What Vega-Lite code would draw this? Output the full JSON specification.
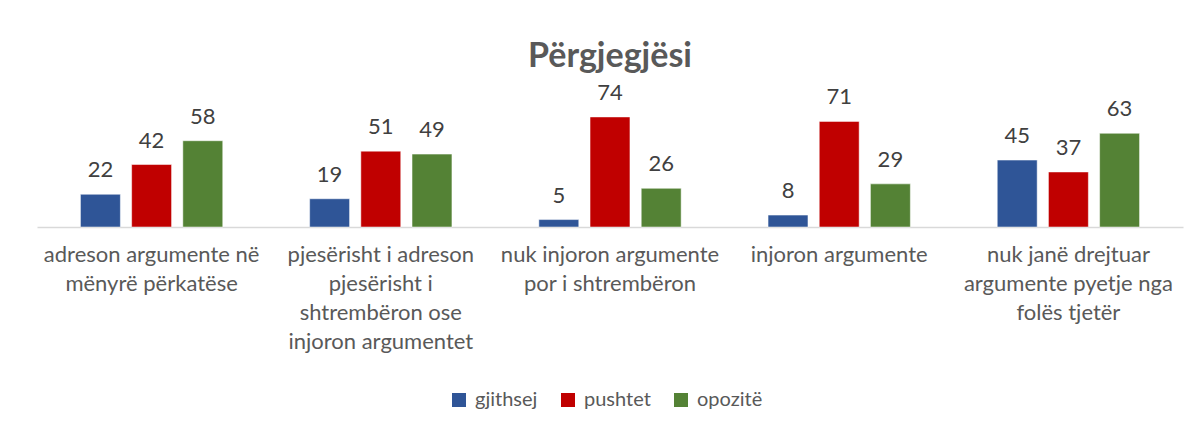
{
  "$schema": "https://vega.github.io/schema/vega-lite/v6.json",
  "width": 1146,
  "height": 119,
  "autosize": {"type": "none"},
  "padding": {"left": 37, "top": 108, "right": 17, "bottom": 205},
  "background": "white",
  "title": {
    "text": "Përgjegjësi",
    "font": "Lato",
    "fontSize": 34,
    "fontWeight": "bold",
    "color": "#595959",
    "anchor": "middle",
    "offset": 8
  },
  "config": {
    "view": {"stroke": null},
    "font": "Lato"
  },
  "data": {
    "values": [
      {"kategoria": "adreson argumente në mënyrë përkatëse", "seria": "gjithsej", "vlera": 22},
      {"kategoria": "adreson argumente në mënyrë përkatëse", "seria": "pushtet", "vlera": 42},
      {"kategoria": "adreson argumente në mënyrë përkatëse", "seria": "opozitë", "vlera": 58},
      {"kategoria": "pjesërisht i adreson pjesërisht i shtrembëron ose injoron argumentet", "seria": "gjithsej", "vlera": 19},
      {"kategoria": "pjesërisht i adreson pjesërisht i shtrembëron ose injoron argumentet", "seria": "pushtet", "vlera": 51},
      {"kategoria": "pjesërisht i adreson pjesërisht i shtrembëron ose injoron argumentet", "seria": "opozitë", "vlera": 49},
      {"kategoria": "nuk injoron argumente por i shtrembëron", "seria": "gjithsej", "vlera": 5},
      {"kategoria": "nuk injoron argumente por i shtrembëron", "seria": "pushtet", "vlera": 74},
      {"kategoria": "nuk injoron argumente por i shtrembëron", "seria": "opozitë", "vlera": 26},
      {"kategoria": "injoron argumente", "seria": "gjithsej", "vlera": 8},
      {"kategoria": "injoron argumente", "seria": "pushtet", "vlera": 71},
      {"kategoria": "injoron argumente", "seria": "opozitë", "vlera": 29},
      {"kategoria": "nuk janë drejtuar argumente pyetje nga folës tjetër", "seria": "gjithsej", "vlera": 45},
      {"kategoria": "nuk janë drejtuar argumente pyetje nga folës tjetër", "seria": "pushtet", "vlera": 37},
      {"kategoria": "nuk janë drejtuar argumente pyetje nga folës tjetër", "seria": "opozitë", "vlera": 63}
    ]
  },
  "encoding": {
    "x": {
      "field": "kategoria",
      "type": "nominal",
      "sort": null,
      "scale": {"paddingInner": 0.33, "paddingOuter": 0.165},
      "axis": {
        "title": null,
        "labelAngle": 0,
        "labelLimit": 0,
        "labelOverlap": false,
        "labelFont": "Lato",
        "labelFontSize": 22,
        "labelColor": "#595959",
        "labelLineHeight": 29,
        "labelBaseline": "top",
        "labelPadding": 17,
        "ticks": false,
        "domainColor": "#d9d9d9",
        "domainWidth": 1.5,
        "labelExpr": "datum.label == 'adreson argumente në mënyrë përkatëse' ? ['adreson argumente në','mënyrë përkatëse'] : datum.label == 'pjesërisht i adreson pjesërisht i shtrembëron ose injoron argumentet' ? ['pjesërisht i adreson','pjesërisht i','shtrembëron ose','injoron argumentet'] : datum.label == 'nuk injoron argumente por i shtrembëron' ? ['nuk injoron argumente','por i shtrembëron'] : datum.label == 'nuk janë drejtuar argumente pyetje nga folës tjetër' ? ['nuk janë drejtuar','argumente pyetje nga','folës tjetër'] : datum.label"
      }
    },
    "xOffset": {
      "field": "seria",
      "type": "nominal",
      "sort": ["gjithsej", "pushtet", "opozitë"],
      "scale": {"paddingInner": 0.22, "paddingOuter": 0.11}
    },
    "y": {
      "field": "vlera",
      "type": "quantitative",
      "scale": {"domain": [0, 80], "nice": false},
      "axis": null
    }
  },
  "layer": [
    {
      "mark": {"type": "bar", "stroke": "white", "strokeWidth": 0.5},
      "encoding": {
        "color": {
          "field": "seria",
          "type": "nominal",
          "sort": ["gjithsej", "pushtet", "opozitë"],
          "scale": {"domain": ["gjithsej", "pushtet", "opozitë"], "range": ["#2F5597", "#C00000", "#548235"]},
          "legend": {
            "title": null,
            "orient": "none",
            "direction": "horizontal",
            "legendX": 412,
            "legendY": 282,
            "symbolType": "square",
            "symbolSize": 196,
            "symbolStrokeWidth": 0,
            "labelFont": "Lato",
            "labelFontSize": 20,
            "labelColor": "#595959",
            "labelOffset": 6,
            "columnPadding": 20
          }
        }
      }
    },
    {
      "mark": {"type": "text", "baseline": "alphabetic", "dy": -17, "font": "Lato", "fontSize": 22, "color": "#404040"},
      "encoding": {
        "text": {"field": "vlera", "type": "quantitative"}
      }
    }
  ]
}
